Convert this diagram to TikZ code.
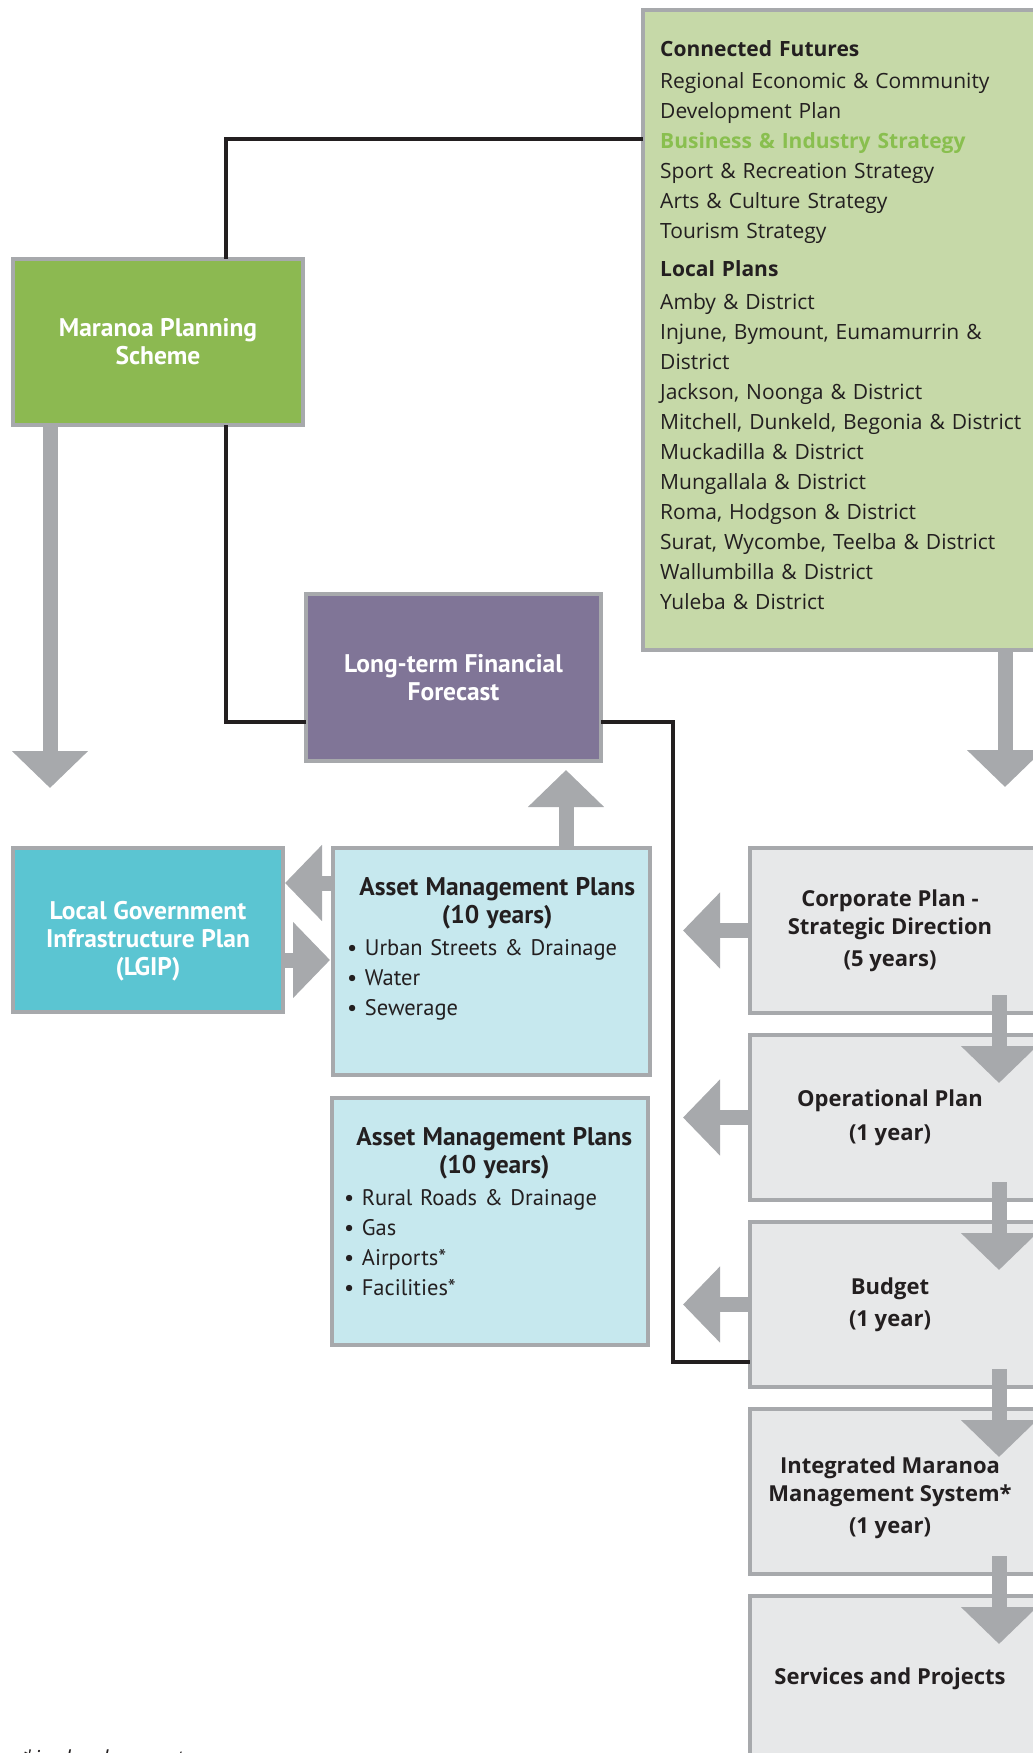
\documentclass[tikz,border=0pt]{standalone}
\usepackage{fontspec}
\setmainfont{Open Sans}
\newfontfamily\condfont{PT Sans}
\usetikzlibrary{arrows.meta,positioning}

\definecolor{framegray}{HTML}{A7A9AC}
\definecolor{cfgreen}{HTML}{C6D9A8}
\definecolor{mpsgreen}{HTML}{8CB951}
\definecolor{bizgreen}{HTML}{89BF4F}
\definecolor{ltffpurple}{HTML}{807597}
\definecolor{lgipcyan}{HTML}{5BC5D2}
\definecolor{amplight}{HTML}{C6E8EE}
\definecolor{planlight}{HTML}{E7E8E9}
\definecolor{inkdark}{HTML}{231F20}

\begin{document}
\begin{tikzpicture}[x=1pt,y=-1pt,
  framebox/.style={draw=framegray,line width=4pt,inner sep=0pt,outer sep=0pt,anchor=north west},
  whitetext/.style={text=white,font=\condfont\bfseries\fontsize{25.5}{28}\selectfont,align=center},
  plantext/.style={text=inkdark,font=\bfseries\fontsize{22}{28}\selectfont,align=center,inner sep=0pt},
  amptext/.style={text=inkdark,font=\condfont\fontsize{22.5}{30}\selectfont,text width=300pt,align=left,inner sep=0pt,anchor=north west},
  cftext/.style={text=inkdark,font=\fontsize{21}{30}\selectfont,text width=390pt,align=left,inner sep=0pt,anchor=north west},
  blackline/.style={draw=inkdark,line width=3.5pt},
  fatarrow/.style={draw=framegray,line width=15pt,-{Triangle[width=74pt,length=37pt]}}]

\useasboundingbox (0,0) rectangle (1033,1753);
\clip (0,0) rectangle (1033,1753);

% left and middle boxes
\node[framebox,fill=cfgreen,minimum width=420pt,minimum height=640pt] (cf) at (643,10) {};
\node[framebox,fill=mpsgreen,minimum width=290pt,minimum height=166pt,whitetext] (mps) at (13,259) {Maranoa Planning\\Scheme};
\node[framebox,fill=ltffpurple,minimum width=295pt,minimum height=167pt,whitetext] (ltff) at (306,594) {Long-term Financial\\Forecast};
\node[framebox,fill=lgipcyan,minimum width=270pt,minimum height=164pt] (lgip) at (13,848) {};
\node[whitetext,inner sep=0pt] (lgiptext) at ([yshift=-11pt]lgip.center) {Local Government\\Infrastructure Plan\\(LGIP)};
\node[framebox,fill=amplight,minimum width=317pt,minimum height=227pt] (amp1) at (333,848) {};
\node[framebox,fill=amplight,minimum width=316pt,minimum height=247pt] (amp2) at (332,1098) {};

% right column
\node[framebox,fill=planlight,minimum width=320pt,minimum height=165pt] (corp) at (750,848) {};
\node[framebox,fill=planlight,minimum width=320pt,minimum height=165pt,below=22pt of corp] (oper) {};
\node[framebox,fill=planlight,minimum width=320pt,minimum height=165pt,below=22pt of oper] (budget) {};
\node[framebox,fill=planlight,minimum width=320pt,minimum height=165pt,below=22pt of budget] (imms) {};
\node[framebox,fill=planlight,minimum width=320pt,minimum height=165pt,below=22pt of imms] (services) {};

% texts
\node[cftext] (cflist) at (660,40) {{\bfseries Connected Futures}\\[2pt]
Regional Economic \& Community\\
Development Plan\\
{\bfseries\color{bizgreen}Business \& Industry Strategy}\\
Sport \& Recreation Strategy\\
Arts \& Culture Strategy\\
Tourism Strategy\\[8pt]
{\bfseries Local Plans}\\[3pt]
Amby \& District\\
Injune, Bymount, Eumamurrin \&\\
District\\
Jackson, Noonga \& District\\
Mitchell, Dunkeld, Begonia \& District\\
Muckadilla \& District\\
Mungallala \& District\\
Roma, Hodgson \& District\\
Surat, Wycombe, Teelba \& District\\
Wallumbilla \& District\\
Yuleba \& District};

\node[amptext] (amp1text) at ([xshift=14pt,yshift=-29pt]amp1.north west) {{\centering\bfseries\fontsize{25.5}{28}\selectfont Asset Management Plans\\(10 years)\par}\vspace{2pt}
\textbullet\ Urban Streets \& Drainage\\
\textbullet\ Water\\
\textbullet\ Sewerage};
\node[amptext] (amp2text) at ([xshift=12pt,yshift=-29pt]amp2.north west) {{\centering\bfseries\fontsize{25.5}{28}\selectfont Asset Management Plans\\(10 years)\par}\vspace{2pt}
\textbullet\ Rural Roads \& Drainage\\
\textbullet\ Gas\\
\textbullet\ Airports*\\
\textbullet\ Facilities*};

\node[plantext] (corptext) at ([xshift=-20pt]corp.center) {Corporate Plan -\\Strategic Direction\\[4pt](5 years)};
\node[plantext] (opertext) at ([xshift=-20pt]oper.center) {Operational Plan\\[6pt](1 year)};
\node[plantext] (budgettext) at ([xshift=-20pt]budget.center) {Budget\\[4pt](1 year)};
\node[plantext] (immstext) at ([xshift=-20pt,yshift=-6pt]imms.center) {Integrated Maranoa\\Management System*\\[4pt](1 year)};
\node[plantext] (servicestext) at ([xshift=-20pt]services.center) {Services and Projects};

\node[text=inkdark,font=\itshape\fontsize{22}{26}\selectfont,anchor=base west,inner sep=0pt] (note) at (22,1766) {*in development};

% black links
\coordinate (cfjoin) at (226,139);
\coordinate (ltffjoin) at (226,722);
\coordinate (budgetjoin) at (673,1362);
\draw[blackline] (cf.west |- cfjoin) -- (cfjoin) -- (cfjoin |- mps.north);
\draw[blackline] (ltffjoin |- mps.south) -- (ltffjoin) -- (ltffjoin -| ltff.west);
\draw[blackline] (ltff.east |- ltffjoin) -| (budgetjoin) -- (budgetjoin -| budget.west);

% grey arrows
\coordinate (cfdown) at (1005,787);
\coordinate (mpsdown) at (50,788);
\coordinate (ltffup) at (566,770);
\coordinate (amplgip) at (0,883);
\coordinate (lgipamp) at (0,960);
\coordinate (stackx) at (999,0);
\draw[fatarrow] (cf.south -| cfdown) -- (cfdown);
\draw[fatarrow] (mps.south -| mpsdown) -- (mpsdown);
\draw[fatarrow] (amp1.north -| ltffup) -- (ltffup);
\draw[fatarrow] (amp1.west |- amplgip) -- ([xshift=2pt]lgip.east |- amplgip);
\draw[fatarrow] (lgip.east |- lgipamp) -- ([xshift=-3pt]amp1.west |- lgipamp);
\foreach \n in {corp,oper,budget}
  \draw[fatarrow] (\n.west) -- ++(-67,0);
\foreach \a/\b in {corp/oper,oper/budget,budget/imms,imms/services}
  \draw[fatarrow] ([yshift=18pt]\a.south -| stackx) -- ([yshift=-48pt]\b.north -| stackx);
\end{tikzpicture}
\end{document}
